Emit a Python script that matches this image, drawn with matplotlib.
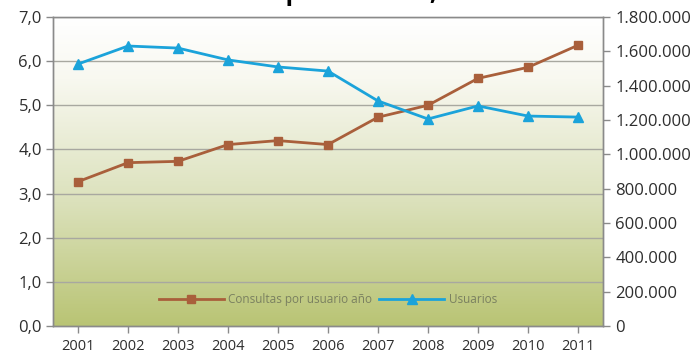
import numpy as np
import matplotlib
matplotlib.use("Agg")
import matplotlib.pyplot as plt
from matplotlib.colors import LinearSegmentedColormap

years = [2001, 2002, 2003, 2004, 2005, 2006, 2007, 2008, 2009, 2010, 2011]
consultas = [3.27, 3.70, 3.73, 4.11, 4.20, 4.11, 4.73, 5.00, 5.61, 5.86, 6.36]
usuarios = [1526000, 1631000, 1619000, 1550000, 1509000, 1485000,
            1311000, 1206000, 1282000, 1223000, 1217000]
left_ticks = [0, 1, 2, 3, 4, 5, 6, 7]
right_ticks = [0, 200000, 400000, 600000, 800000, 1000000, 1200000,
               1400000, 1600000, 1800000]

plt.rcParams['font.family'] = ['Open Sans', 'DejaVu Sans']

brown = '#a95f3b'
blue = '#1ba3da'
grid_c = '#a8a8a0'
txt_c = '#2e2e2e'

fig = plt.figure(figsize=(7.0, 3.54), dpi=100)
ax = fig.add_axes([53 / 700, 28 / 354, 550 / 700, 309 / 354])

# background gradient white -> olive
cmap = LinearSegmentedColormap.from_list(
    'bg', [(0, '#b9c474'), (0.4, '#dbe1bb'), (0.8, '#f8f8f0'), (1, '#ffffff')])
grad = np.linspace(0, 1, 256).reshape(-1, 1)
ax.imshow(grad, cmap=cmap, aspect='auto', origin='lower',
          extent=[0, 1, 0, 1], transform=ax.transAxes, zorder=0)

ax.set_xlim(2000.5, 2011.5)
ax.set_ylim(0, 7)
ax.set_yticks(left_ticks)
ax.set_yticklabels([f"{v:.1f}".replace('.', ',') for v in left_ticks])
ax.set_xticks(years)
ax.set_xticklabels([str(y) for y in years])
for v in left_ticks[1:]:
    ax.axhline(v, color=grid_c, lw=1.0, zorder=1)

l1, = ax.plot(years, consultas, color=brown, lw=2, marker='s', ms=6,
              zorder=5, label='Consultas por usuario año')

ax2 = ax.twinx()
ax2.set_ylim(0, 1800000)
ax2.set_yticks(right_ticks)
ax2.set_yticklabels([f"{v:,}".replace(',', '.') for v in right_ticks])
l2, = ax2.plot(years, usuarios, color=blue, lw=2, marker='^', ms=7,
               zorder=5, label='Usuarios')

for a in (ax, ax2):
    for s in a.spines.values():
        s.set_color('#8a8a8a')
        s.set_linewidth(1.0)
    a.tick_params(colors='#8a8a8a', labelcolor=txt_c, length=5, width=1)
ax.spines['top'].set_color('#b0b0b0')
ax.tick_params(axis='y', labelsize=12, pad=3)
ax.tick_params(axis='x', labelsize=10.5, pad=4)
ax2.tick_params(axis='y', labelsize=12, pad=4)

leg = ax2.legend(handles=[l1, l2], loc='center', bbox_to_anchor=(0.5, 0.085),
                 ncol=2, frameon=False, fontsize=8.5, handlelength=5.5,
                 columnspacing=0.6, handletextpad=0.4)
for t in leg.get_texts():
    t.set_color('#7a8060')

fig.text(0.515, 1.0, 'Consultas por usuario, 2001-2011', ha='center',
         va='baseline', fontsize=18, fontweight='bold', color='black')

fig.savefig('out.png', dpi=100)
